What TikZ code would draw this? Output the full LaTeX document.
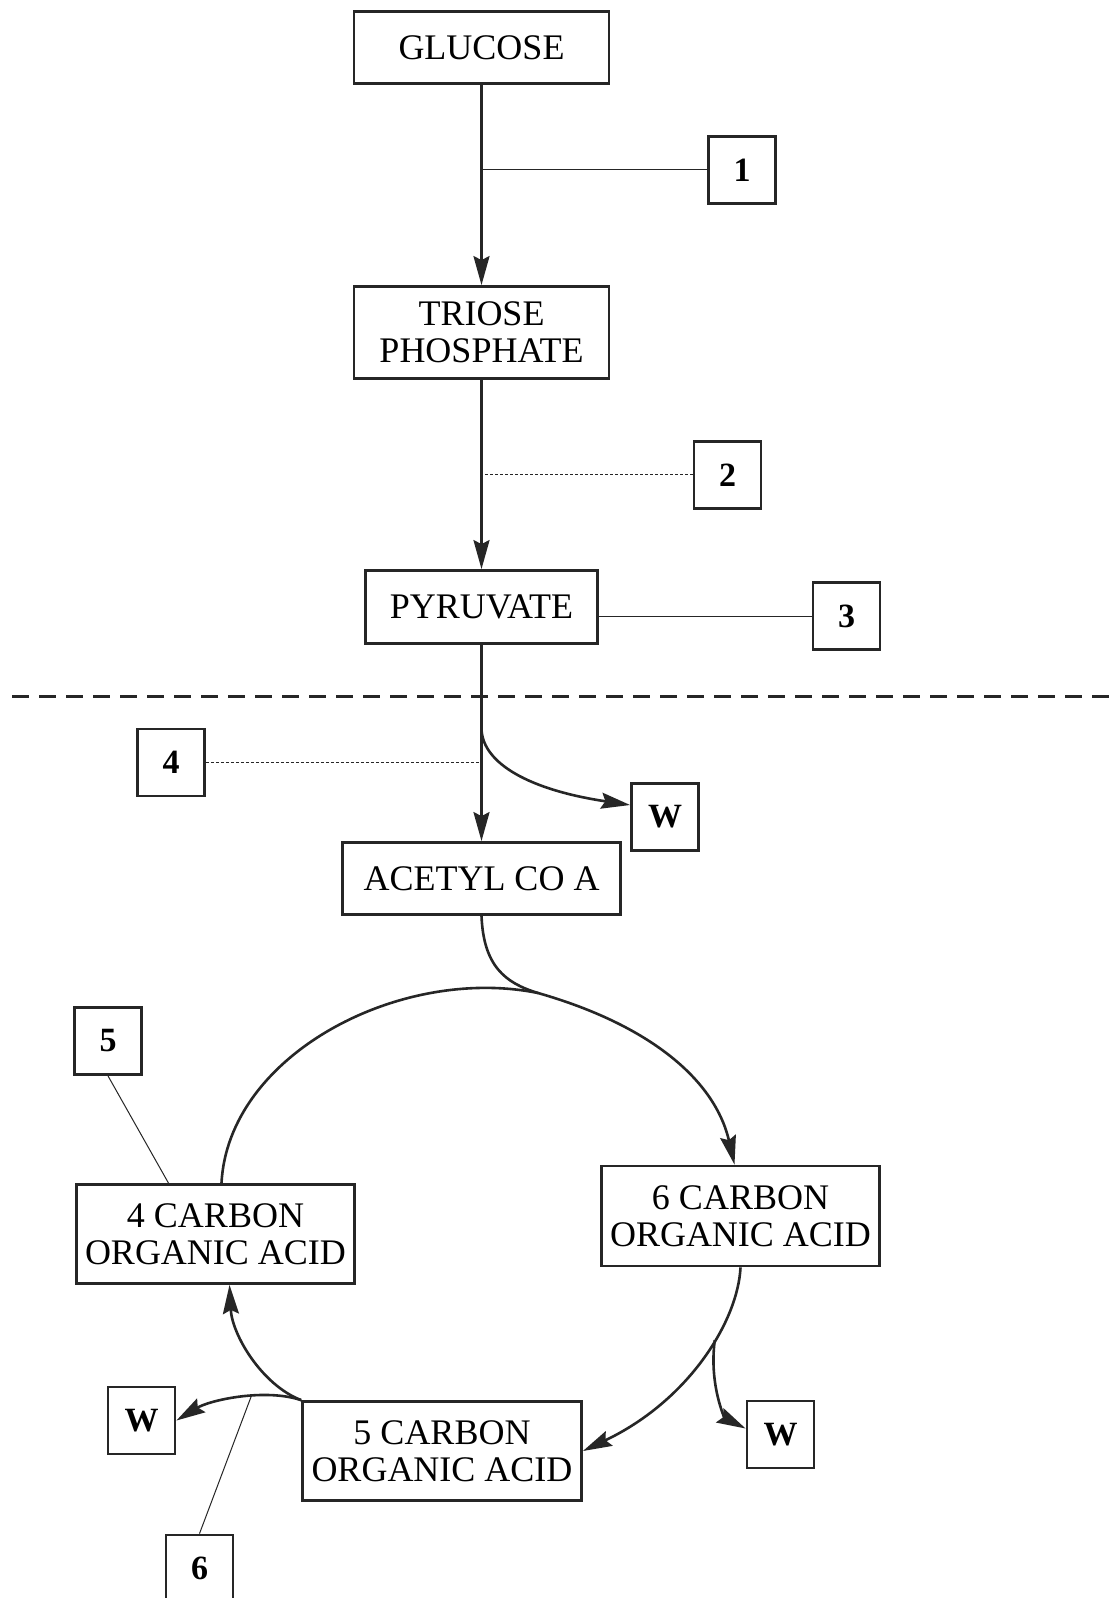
\documentclass[tikz,border=0pt]{standalone}
\usepackage{fontspec}
\setmainfont{Liberation Serif}
\usetikzlibrary{arrows.meta,calc}
\definecolor{ink}{gray}{0.15}
\begin{document}
\begin{tikzpicture}[x=0.5pt,y=-0.5pt,
  box/.style={draw=ink,line width=1.4pt,inner sep=0pt,align=center,font=\fontsize{18}{18.5}\selectfont},
  lab/.style={draw=ink,line width=1.4pt,inner sep=0pt,minimum width=33.5pt,minimum height=33.5pt,font=\fontsize{17}{17}\selectfont\bfseries},
  flow/.style={draw=ink,line width=1.3pt,-{Stealth[length=14.5pt,width=8pt,inset=2pt]}},
  plain/.style={draw=ink,line width=1.3pt},
  lead/.style={draw=ink,line width=0.5pt},
  leaddash/.style={draw=ink,line width=0.5pt,dash pattern=on 1.5pt off 1pt},
  sep/.style={draw=ink,line width=1.5pt,dash pattern=on 8.5pt off 5pt}
]
\useasboundingbox[fill=white] (0,0) rectangle (1111,1598);

% main boxes
\node[box,minimum width=127.5pt,minimum height=36pt] (glucose) at (481.5,47.5) {GLUCOSE};
\node[box,minimum width=127.5pt,minimum height=46pt] (triose) at (481.5,332.5) {TRIOSE\\PHOSPHATE};
\node[box,minimum width=116pt,minimum height=36.5pt] (pyr) at (481.5,607) {PYRUVATE};
\node[box,minimum width=139pt,minimum height=36pt] (acetyl) at (481.5,878.5) {ACETYL CO A};
\node[box,minimum width=139pt,minimum height=50pt] (c6) at (740.5,1216) {6 CARBON\\ORGANIC ACID};
\node[box,minimum width=139pt,minimum height=49.5pt] (c4) at (215.5,1234) {4 CARBON\\ORGANIC ACID};
\node[box,minimum width=139.5pt,minimum height=49.5pt] (c5) at (442,1451) {5 CARBON\\ORGANIC ACID};

% label boxes
\node[lab] (box1) at (742,170) {1};
\node[lab] (box2) at (727.5,475) {2};
\node[lab] (box3) at (846.5,616) {3};
\node[lab] (box4) at (171,762.5) {4};
\node[lab] (box5) at (108,1041) {5};
\node[lab] (box6) at (199.5,1568.5) {6};
\node[lab] (wtop) at (665,817) {W};
\node[lab] (wl) at (141.5,1420.5) {W};
\node[lab] (wr) at (780.5,1434.5) {W};

% separator
\draw[sep] (12,696) -- (1111,696);

% main chain
\draw[flow] (glucose.south) -- (triose.north);
\draw[flow] (triose.south) -- (pyr.north);
\draw[flow] (pyr.south) -- (acetyl.north);

% leaders
\draw[lead] (box1.west) -- (box1.west -| glucose.south);
\draw[leaddash] (box2.west) -- (box2.west -| triose.south);
\draw[lead] (box3.west) -- (box3.west -| pyr.east);
\draw[leaddash] (box4.east) -- (box4.east -| pyr.south);

% branch to W
\coordinate (br) at ($(pyr.south)+(0,85)$);
\draw[flow] (br) .. controls ($(br)+(2,34)$) and (530,790) .. ($(wtop.west)+(0,-12)$);

% cycle
\coordinate (J) at (538,993);
\draw[plain] ($(c4.north)+(6,0)$) .. controls (228,1055) and (400,965) .. (J);
\draw[flow] (acetyl.south) .. controls ($(acetyl.south)+(2,50)$) and (505,983) .. (J)
  .. controls (650,1025) and (715,1080) .. ($(c6.north)+(-6,0)$);
\draw[flow] (c6.south) .. controls (738,1320) and (690,1400) .. (c5.east) coordinate[pos=0.4] (B);
\draw[flow] (B) .. controls ($(B)+(-6,45)$) and (725,1418) .. ($(wr.west)+(0,-6)$);
\draw[flow] (c5.north west) .. controls (262,1385) and (232,1335) .. ($(c4.south)+(14,0)$);
\draw[flow] (c5.north west) .. controls (265,1388) and (210,1400) .. (wl.east) coordinate[pos=0.4] (S6);

\draw[lead] (box6.north) -- (S6);
\draw[lead] (box5.south) -- ($(c4.north)+(-47,0)$);
\end{tikzpicture}
\end{document}
